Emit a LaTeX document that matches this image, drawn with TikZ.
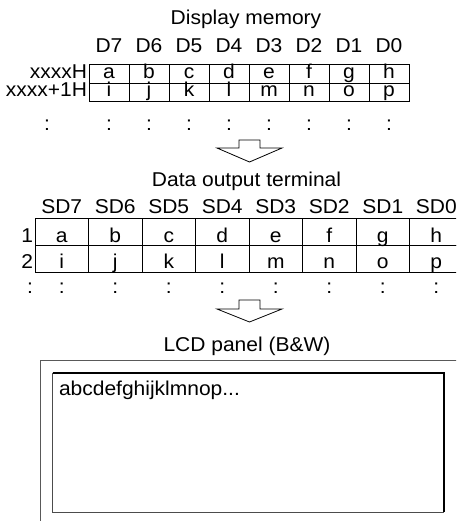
\documentclass[tikz,border=0pt]{standalone}
\usepackage{fontspec}
\setmainfont{Liberation Sans}[FakeStretch=1.05]
\begin{document}
\begin{tikzpicture}[x=1pt,y=-1pt,font=\fontsize{20}{22}\selectfont,
  txt/.style={anchor=base,inner sep=0,outer sep=0},
  rtxt/.style={anchor=base east,inner sep=0,outer sep=0},
  ltxt/.style={anchor=base west,inner sep=0,outer sep=0},
  cellA/.style={draw,line width=0.8pt,minimum width=40pt,minimum height=18.5pt,inner sep=0,outer sep=0},
  cellB/.style={draw,line width=0.8pt,minimum width=53.5pt,minimum height=26.7pt,inner sep=0,outer sep=0},
  blockarrow/.style={draw,fill=white,line width=0.8pt,line join=miter}]
\useasboundingbox (0,0) rectangle (456,521);
\clip (0,0) rectangle (456,521);
% ---------- Display memory ----------
\node[txt] (t1) at (246,25) {Display memory};
\foreach \h [count=\i] in {D7,D6,D5,D4,D3,D2,D1,D0}
  \node[txt] (ha\i) at ({89+40*(\i-0.5)},53) {\h};
\foreach \t [count=\i] in {a,b,c,d,e,f,g,h}{
  \node[cellA] (ca\i) at ({89+40*(\i-0.5)},73.75) {};
  \node[txt] (ta\i) at ({89+40*(\i-0.5)},78.5) {\t};}
\foreach \t [count=\i] in {i,j,k,l,m,n,o,p}{
  \node[cellA] (cb\i) at ({89+40*(\i-0.5)},92.25) {};
  \node[txt] (tb\i) at ({89+40*(\i-0.5)},97) {\t};}
\node[rtxt] (ra) at (87,78.5) {xxxxH};
\node[rtxt] (rb) at (87,97) {xxxx+1H};
\node[txt] (dl) at (47,131) {:};
\foreach \i in {1,...,8}
  \node[txt] (dc\i) at ({89+40*(\i-0.5)},131) {:};
\draw[blockarrow] (239,140) -- (260,140) -- (260,148) -- (282,148) -- (249.5,162) -- (217,148) -- (239,148) -- cycle;
% ---------- Data output terminal ----------
\node[txt] (t2) at (246.5,187) {Data output terminal};
\foreach \h [count=\i] in {SD7,SD6,SD5,SD4,SD3,SD2,SD1,SD0}
  \node[txt] (hb\i) at ({35+53.5*(\i-0.5)},213) {\h};
\foreach \t [count=\i] in {a,b,c,d,e,f,g,h}{
  \node[cellB] (sa\i) at ({35+53.5*(\i-0.5)},231.85) {};
  \node[txt] (ua\i) at ({35+53.5*(\i-0.5)},242) {\t};}
\foreach \t [count=\i] in {i,j,k,l,m,n,o,p}{
  \node[cellB] (sb\i) at ({35+53.5*(\i-0.5)},258.55) {};
  \node[txt] (ub\i) at ({35+53.5*(\i-0.5)},268.5) {\t};}
\node[rtxt] (n1) at (33,242) {1};
\node[rtxt] (n2) at (33,268.5) {2};
\node[txt] (el) at (30,293) {:};
\foreach \i in {1,...,8}
  \node[txt] (ec\i) at ({35+53.5*(\i-0.5)},293) {:};
\draw[blockarrow] (239,300) -- (260,300) -- (260,309) -- (282,309) -- (249.5,322) -- (217,309) -- (239,309) -- cycle;
% ---------- LCD panel ----------
\node[txt] (t3) at (247,351) {LCD panel (B\&W)};
\draw[gray!70!black,line width=0.9pt] (40,530) -- (40,360) -- (470,360);
\draw[gray!60!black,line width=0.9pt] (52.7,372.7) -- (52.7,512) -- (444,512);
\draw[line width=1.8pt] (52.7,372.7) -- (444,372.7) -- (444,512);
\node[ltxt] (lcd) at (59,395) {abcdefghijklmnop...};
\end{tikzpicture}
\end{document}
